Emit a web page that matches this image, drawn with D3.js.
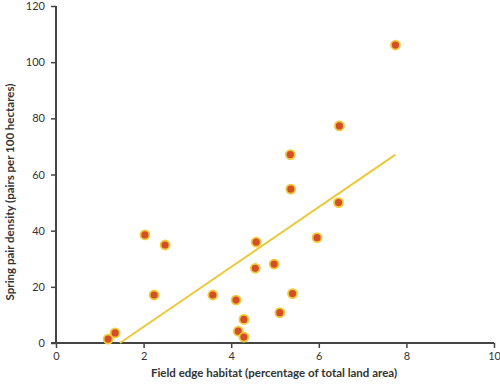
<!DOCTYPE html>
<html>
<head>
<meta charset="utf-8">
<script src="https://cdn.jsdelivr.net/npm/d3@7"></script>
<style>
  body { margin: 0; background: #fff; }
  svg text { font-family: Lato, "Open Sans", sans-serif; fill: #333; }
</style>
</head>
<body>
<div id="chart"></div>
<script>
// data
const edgeHabitat = [1.19, 1.35, 2.03, 2.49, 2.24, 3.58, 4.11, 4.29, 4.16, 4.29, 4.55,
  4.57, 4.98, 5.11, 5.40, 5.96, 6.45, 5.36, 5.35, 6.47, 7.75];
const pairDensity = [1.4, 3.6, 38.5, 34.9, 17.1, 17.1, 15.3, 8.4, 4.2, 2.1, 26.6,
  35.9, 28.1, 10.8, 17.6, 37.5, 50.0, 54.8, 67.1, 77.3, 106.1];
const trendX = [1.46, 7.75];
const trendY = [0, 67.1];
const xTicks = [0, 2, 4, 6, 8, 10];
const yTicks = [0, 20, 40, 60, 80, 100, 120];

const w = 500, h = 385;
const svg = d3.select('#chart').append('svg')
  .attr('width', w)
  .attr('height', h);

const x = d3.scaleLinear().domain([0, 10]).range([56, 494]);
const y = d3.scaleLinear().domain([0, 120]).range([343, 6]);

// axes
const xAxis = d3.axisBottom(x).tickValues(xTicks).tickSize(5).tickPadding(4);
const gx = svg.append('g')
  .attr('transform', 'translate(0,' + y(0) + ')')
  .call(xAxis);
const yAxis = d3.axisLeft(y).tickValues(yTicks).tickSize(5).tickPadding(6);
const gy = svg.append('g')
  .attr('transform', 'translate(' + x(0) + ',0)')
  .call(yAxis);

[gx, gy].forEach(g => {
  g.select('.domain').attr('stroke', '#444').attr('stroke-width', 2);
  g.selectAll('.tick line').attr('stroke', '#444').attr('stroke-width', 1.5);
  g.selectAll('.tick text').style('font-size', '11px').attr('fill', '#333');
});
gx.select('.domain').attr('d', 'M' + (x(0) - 5) + ',0H' + x(10));
gy.select('.domain').attr('d', 'M0,' + y(120) + 'V' + (y(0) + 1));

// trend line
svg.append('line')
  .attr('x1', x(trendX[0])).attr('y1', y(trendY[0]))
  .attr('x2', x(trendX[1])).attr('y2', y(trendY[1]))
  .attr('stroke', '#ecc93a')
  .attr('stroke-width', 2);

// points
svg.append('g').selectAll('circle')
  .data(edgeHabitat)
  .enter()
  .append('circle')
  .attr('cx', d => x(d))
  .attr('cy', (d, i) => y(pairDensity[i]))
  .attr('r', 4.5)
  .attr('fill', '#d24f28')
  .attr('stroke', '#f3c93c')
  .attr('stroke-width', 1.8);

// axis titles
svg.append('text')
  .attr('x', 274)
  .attr('y', 377)
  .attr('text-anchor', 'middle')
  .style('font-size', '11.5px')
  .style('font-weight', 'bold')
  .text('Field edge habitat (percentage of total land area)');

svg.append('text')
  .attr('transform', 'translate(14,192) rotate(-90)')
  .attr('text-anchor', 'middle')
  .style('font-size', '11.5px')
  .style('font-weight', 'bold')
  .text('Spring pair density (pairs per 100 hectares)');
</script>
</body>
</html>
